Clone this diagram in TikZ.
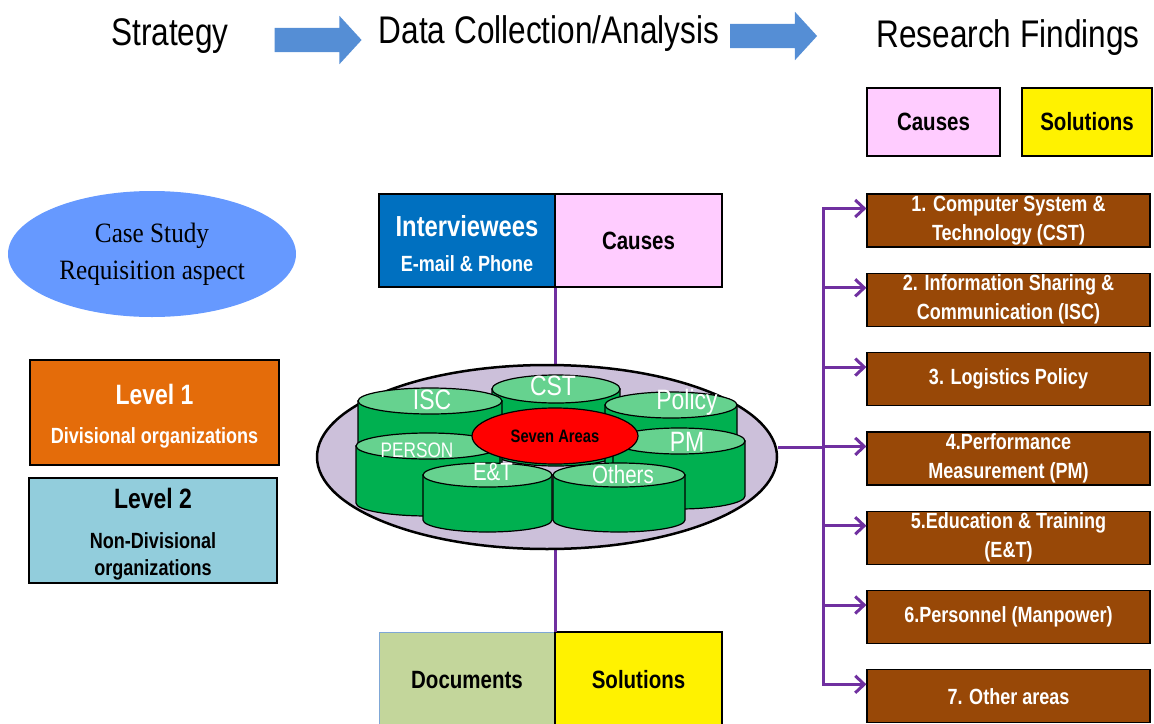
\documentclass[tikz,border=0pt]{standalone}
\usepackage{fontspec}
\usetikzlibrary{arrows.meta,shapes.geometric,shapes.arrows}
\newfontfamily\narrow[FakeStretch=0.82]{Liberation Sans}
\newfontfamily\narrowserif[FakeStretch=0.9]{Liberation Serif}
\definecolor{arrowblue}{HTML}{558ED5}
\definecolor{pinkbox}{HTML}{FFCCFF}
\definecolor{caseblue}{HTML}{6699FF}
\definecolor{levelone}{HTML}{E46C0A}
\definecolor{leveltwo}{HTML}{92CDDC}
\definecolor{interblue}{HTML}{0070C0}
\definecolor{platter}{HTML}{CCC0DA}
\definecolor{cylbody}{HTML}{00B050}
\definecolor{cyltop}{HTML}{66D28F}
\definecolor{docgreen}{HTML}{C3D69B}
\definecolor{docedge}{HTML}{7FA7D6}
\definecolor{areabrown}{HTML}{984807}
\definecolor{flowpurple}{HTML}{7030A0}
\newcommand{\fsz}[2]{\fontsize{#1}{#2}\selectfont}

\begin{document}
\begin{tikzpicture}[x=1pt,y=1pt,>=latex,
		head/.style={font=\narrow\fsz{38.5}{42}},
		box/.style={draw,line width=1.2pt,inner sep=0pt,align=center},
		area/.style={box,fill=areabrown,text=white,minimum width=283pt,minimum height=53pt,font=\narrow\bfseries\fsz{22}{29}},
		flow/.style={flowpurple,line width=3pt,-{Straight Barb[length=9pt,width=17pt]}},
		bigarrow/.style={single arrow,fill=arrowblue,minimum height=87pt,inner xsep=0pt,inner ysep=12pt,single arrow head extend=12pt,single arrow tip angle=95}]
			\useasboundingbox (0,0) rectangle (1154,-723);
			\node[head] (strat) at (170,-36) {Strategy};
			\node[head] (data) at (549,-34) {Data Collection/Analysis};
			\node[head] (find) at (1008,-38) {Research Findings};
			\node[bigarrow] (arr1) at (312.5,-40) {};
			\node[bigarrow] (arr2) at (768,-36) {};
			\node[box,fill=pinkbox,minimum width=133pt,minimum height=68pt,font=\narrow\bfseries\fsz{25}{28}] (causesR) at (933.5,-122) {Causes};
			\node[box,fill=yellow,minimum width=130pt,minimum height=68pt,font=\narrow\bfseries\fsz{25}{28}] (solR) at (1087,-122) {Solutions};
			\node[ellipse,fill=caseblue,minimum width=288pt,minimum height=126pt,inner sep=0pt,align=center,font=\narrowserif\fsz{28}{37}] (case) at (152,-254) {Case Study\\Requisition aspect};
			\node[box,fill=levelone,text=white,minimum width=249pt,minimum height=105pt,font=\narrow\bfseries\fsz{22}{39}] (lev1) at (154.5,-412.5) {{\fsz{28}{39}\rule{0pt}{28pt}Level 1}\\Divisional organizations};
			\node[box,fill=leveltwo,minimum width=248pt,minimum height=105pt,font=\narrow\bfseries\fsz{22}{27}] (lev2) at (153,-530.5) {{\fsz{28}{27}\rule{0pt}{28pt}Level 2}\\[13pt]Non-Divisional\\organizations};
			\node[box,fill=interblue,text=white,minimum width=176pt,minimum height=93pt,font=\narrow\bfseries\fsz{22}{35}] (inter) at (467,-240.5) {{\fsz{29}{35}\rule{0pt}{27pt}Interviewees}\\E-mail \& Phone};
			\node[box,fill=pinkbox,minimum width=167pt,minimum height=93pt,font=\narrow\bfseries\fsz{25}{28}] (causesM) at (638.5,-240.5) {Causes};
			\node[box,draw=docedge,line width=1pt,fill=docgreen,minimum width=176pt,minimum height=96pt,font=\narrow\bfseries\fsz{25}{28}] (docs) at (467,-680) {Documents};
			\node[box,fill=yellow,minimum width=167pt,minimum height=96pt,font=\narrow\bfseries\fsz{25}{28}] (solM) at (638.5,-680) {Solutions};
			\draw[flowpurple,line width=3pt] (inter.south east) -- (inter.south east |- 0,-366);
			\draw[flowpurple,line width=3pt] (docs.north east) -- (docs.north east |- 0,-548);
			\node[ellipse,draw,line width=2.5pt,fill=platter,minimum width=460pt,minimum height=184pt,inner sep=0pt] (plat) at (547,-457) {};
			\foreach \xa/\xb/\yt/\ry/\yb/\lx/\ly/\sz/\lab [count=\i] in {492/620/389/14/452/553/386/28/CST, 358/502/401/13/462/432/400/28/ISC, 605/737/405/13/465/687/402/28/Policy, 356/500/446/13/503/417/450/21/PERSON, 613/745/441/13/496/687/442/28/PM, 423/552/475/12/520/493/472/25/E\&T, 553/685/475/12/520/623/475/25/Others}{
				\filldraw[fill=cylbody,line width=1.2pt] (\xa,-\yt) -- (\xa,-\yb) arc[start angle=180,end angle=360,x radius={(\xb-\xa)/2},y radius=\ry] -- (\xb,-\yt) -- cycle;
				\filldraw[fill=cyltop,line width=1.2pt] ({(\xa+\xb)/2},-\yt) ellipse[x radius={(\xb-\xa)/2},y radius=\ry];
				\node[text=white,font=\narrow\fsz{\sz}{\sz}] (cyl\i) at (\lx,-\ly) {\lab};
			}
			\node[ellipse,draw,line width=1.2pt,fill=red,minimum width=166pt,minimum height=56pt,inner sep=0pt,font=\narrow\bfseries\fsz{18}{20}] (seven) at (555,-436) {Seven Areas};
			\foreach \txt [count=\i] in {{1. Computer System \&\\Technology (CST)}, {2. Information Sharing \&\\Communication (ISC)}, {3. Logistics Policy}, {4.Performance\\Measurement (PM)}, {5.Education \& Training\\(E\&T)}, {6.Personnel (Manpower)}, {7. Other areas}}{
				\node[area] (b\i) at (1008.5,{-220.5-(\i-1)*79.3}) {\txt};
				\draw[flow] ([yshift=10pt]plat.east) -- ++(45,0) |- ([yshift=12pt]b\i.west);
			}
		\end{tikzpicture}
\end{document}
